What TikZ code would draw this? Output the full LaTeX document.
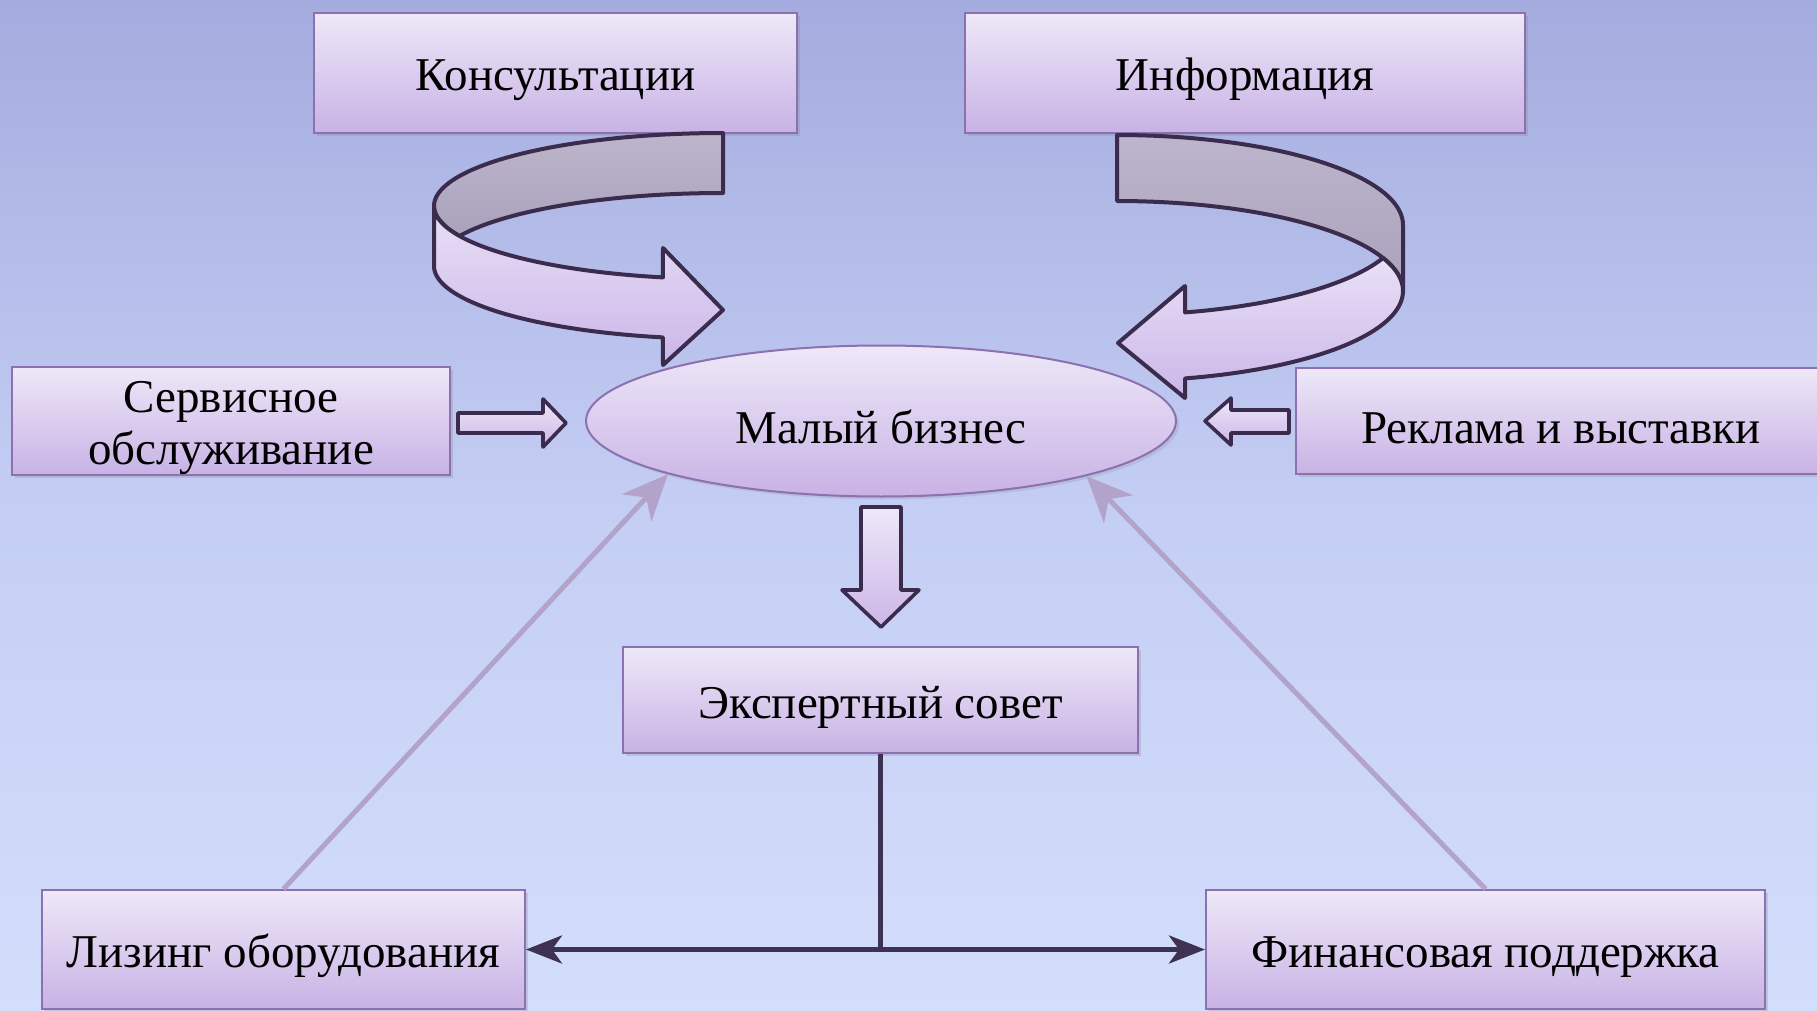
\documentclass[tikz,border=0pt]{standalone}
\usepackage{fontspec}
\setmainfont{Liberation Serif}
\usetikzlibrary{shapes.geometric,arrows.meta,shadows}
\definecolor{bgtop}{RGB}{164,171,222}
\definecolor{bgmid}{RGB}{196,206,244}
\definecolor{bgbot}{RGB}{211,222,252}
\definecolor{boxtop}{RGB}{238,232,248}
\definecolor{boxbot}{RGB}{200,178,229}
\definecolor{boxline}{RGB}{140,112,176}
\definecolor{ribline}{RGB}{59,43,77}
\definecolor{ribgreytop}{RGB}{188,181,203}
\definecolor{ribgreybot}{RGB}{170,162,188}
\definecolor{ribtop}{RGB}{233,224,247}
\definecolor{ribbot}{RGB}{203,182,232}
\definecolor{lightline}{RGB}{179,163,203}
\definecolor{darkline}{RGB}{63,49,82}
\begin{document}
\begin{tikzpicture}[x=0.5pt,y=-0.5pt,
  txt/.style={font=\fontsize{23.5}{26}\selectfont, text=black,
    execute at begin node={\rule{0pt}{23pt}}},
  pbox/.style={txt, draw=boxline, line width=1pt, top color=boxtop, bottom color=boxbot,
    rectangle, inner sep=0pt, align=center,
    drop shadow={opacity=0.25, shadow xshift=1.5pt, shadow yshift=-1.5pt}},
  pell/.style={txt, draw=boxline, line width=1pt, top color=boxtop, bottom color=boxbot,
    ellipse, inner sep=0pt,
    drop shadow={opacity=0.2, shadow xshift=1.5pt, shadow yshift=-1.5pt}},
  ribback/.style={draw=ribline, line width=2pt, line join=round, top color=ribgreytop, bottom color=ribgreybot},
  ribfront/.style={draw=ribline, line width=2pt, line join=round, top color=ribtop, bottom color=ribbot},
  blockarrow/.style={draw=ribline, line width=1.8pt, line join=round, top color=boxtop, bottom color=ribbot},
  lightarrow/.style={draw=lightline, line width=2.5pt, -{Stealth[length=23pt,width=20pt,inset=7pt]}},
  darkarrow/.style={draw=darkline, line width=2.5pt, -{Stealth[length=18pt,width=14pt,inset=5pt]}},
  darkline/.style={draw=darkline, line width=2.5pt}
]
\useasboundingbox (0,0) rectangle (1817,1011);
\shade[top color=bgtop, bottom color=bgbot, middle color=bgmid] (0,0) rectangle (1817,1011);

% boxes
\node[pbox, minimum width=241.5pt, minimum height=60pt] (kons) at (555.5,73) {Консультации};
\node[pbox, minimum width=280pt, minimum height=60pt] (info) at (1245,73) {Информация};
\node[pbox, minimum width=219pt, minimum height=53pt] (serv) at (231,421) {\rule{0pt}{23pt}Сервисное\\обслуживание};
\node[pbox, minimum width=265pt, minimum height=53pt] (rekl) at (1561,421) {Реклама и выставки};
\node[pell, minimum width=295pt, minimum height=75.5pt] (mb) at (881,421) {Малый бизнес};
\node[pbox, minimum width=257.5pt, minimum height=53pt] (exp) at (880.5,700) {Экспертный совет};
\node[pbox, minimum width=241.5pt, minimum height=59.5pt] (liz) at (283.5,949.5) {Лизинг оборудования};
\node[pbox, minimum width=279.5pt, minimum height=59.5pt] (fin) at (1485.5,949.5) {Финансовая поддержка};

% left ribbon arrow
\path[ribback] plot[domain=90:180,samples=40,variable=\t] ({723+289*cos(\t)},{206-73*sin(\t)})
  -- plot[domain=180:204.3,samples=15,variable=\t] ({723+289*cos(\t)},{206-73*sin(\t)})
  -- plot[domain=155.7:90,samples=40,variable=\t] ({723+289*cos(\t)},{266-73*sin(\t)}) -- cycle;
\path[ribfront] plot[domain=180:258,samples=40,variable=\t] ({723+289*cos(\t)},{206-73*sin(\t)})
  -- (663,248) -- (723,310) -- (663,365)
  -- plot[domain=258:180,samples=40,variable=\t] ({723+289*cos(\t)},{266-73*sin(\t)}) -- cycle;

% right ribbon arrow
\path[ribback] plot[domain=90:0,samples=40,variable=\t] ({1117+286*cos(\t)},{225-90*sin(\t)})
  -- plot[domain=0:90,samples=40,variable=\t] ({1117+286*cos(\t)},{291-90*sin(\t)}) -- cycle;
\path[ribfront] plot[domain=0:21.51,samples=15,variable=\t] ({1117+286*cos(\t)},{291-90*sin(\t)})
  -- plot[domain=-21.51:-76.24,samples=40,variable=\t] ({1117+286*cos(\t)},{225-90*sin(\t)})
  -- (1185,286) -- (1118,343) -- (1185,398)
  -- plot[domain=-76.24:0,samples=40,variable=\t] ({1117+286*cos(\t)},{291-90*sin(\t)}) -- cycle;

% small block arrows
\path[blockarrow] (458,413) -- (543,413) -- (543,399) -- (566,423) -- (543,447) -- (543,433) -- (458,433) -- cycle;
\path[blockarrow] (1289,410) -- (1231,410) -- (1231,398) -- (1205,421) -- (1231,445) -- (1231,433) -- (1289,433) -- cycle;
\path[blockarrow] (861,507) -- (901,507) -- (901,590) -- (919,590) -- (881,627) -- (842,590) -- (861,590) -- cycle;

% light connectors
\draw[lightarrow] (liz.north) -- (mb.194.5);
\draw[lightarrow] (fin.north) -- (mb.345.8);

% dark connectors
\draw[darkline] (exp.south) -- (exp.south |- liz.east) coordinate (j);
\draw[darkarrow] (j) -- (liz.east);
\draw[darkarrow] (j) -- (fin.west);
\end{tikzpicture}
\end{document}
